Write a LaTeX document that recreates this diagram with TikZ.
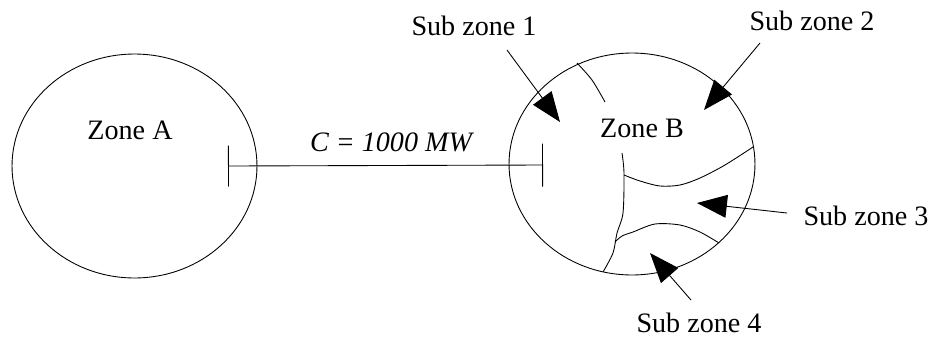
\documentclass[tikz,border=0pt]{standalone}
\usepackage{fontspec}
\setmainfont{Liberation Serif}
\usetikzlibrary{arrows.meta,shapes.geometric}

\begin{document}
\begin{tikzpicture}[x=0.02cm,y=-0.02cm,line width=0.5pt,font=\fontsize{16}{19}\selectfont]
  \tikzstyle{zone}=[draw,ellipse,inner sep=0pt]
  \tikzstyle{lbl}=[inner sep=2pt]
  \tikzstyle{pointer}=[-{Triangle[length=17pt,width=13pt]}]
  \useasboundingbox (0,0) rectangle (934,339);
  \node[zone,minimum width=4.9cm,minimum height=4.48cm] (zoneA) at (134.5,166) {};
  \node[zone,minimum width=4.92cm,minimum height=4.44cm] (zoneB) at (632,164) {};
  \node[lbl] (nameA) at (130,130) {Zone A};
  \node[lbl] (nameB) at (642,128) {Zone B};
  % tie line between the zones
  \coordinate (tieA) at (228,166);
  \coordinate (tieB) at (543,165);
  \draw[{Bar[width=0.82cm]}-{Bar[width=0.86cm]}] (tieA) -- (tieB);
  \node[lbl,font=\fontsize{16}{19}\selectfont\itshape] (cap) at (391,142) {C = 1000 MW};
  % sub zone borders
  \draw plot[smooth] coordinates {(577,63) (592,80) (605,102)};
  \draw plot[smooth] coordinates {(622,153) (624,173) (623,213) (617,233) (613,253) (603,272)};
  \draw plot[smooth] coordinates {(624,175) (640,181) (660,186) (680,185) (700,178) (725,165) (753,147)};
  \draw plot[smooth] coordinates {(615,242) (622,236) (633,232) (655,224) (680,225) (700,232) (719,243)};
  % labels and pointers
  \node[lbl] (sz1) at (474,26) {Sub zone 1};
  \node[lbl] (sz2) at (812,21) {Sub zone 2};
  \node[lbl] (sz3) at (866,216) {Sub zone 3};
  \node[lbl] (sz4) at (699,323) {Sub zone 4};
  \coordinate (sz1tail) at (507,50);
  \coordinate (sz1tip) at (560,122);
  \coordinate (sz2tail) at (760,43);
  \coordinate (sz2tip) at (704,110);
  \coordinate (sz3tail) at (787,213);
  \coordinate (sz3tip) at (697,203);
  \coordinate (sz4tail) at (691,300);
  \coordinate (sz4tip) at (650,253);
  \draw[pointer] (sz1tail) -- (sz1tip);
  \draw[pointer] (sz2tail) -- (sz2tip);
  \draw[pointer] (sz3tail) -- (sz3tip);
  \draw[pointer] (sz4tail) -- (sz4tip);
\end{tikzpicture}
\end{document}
